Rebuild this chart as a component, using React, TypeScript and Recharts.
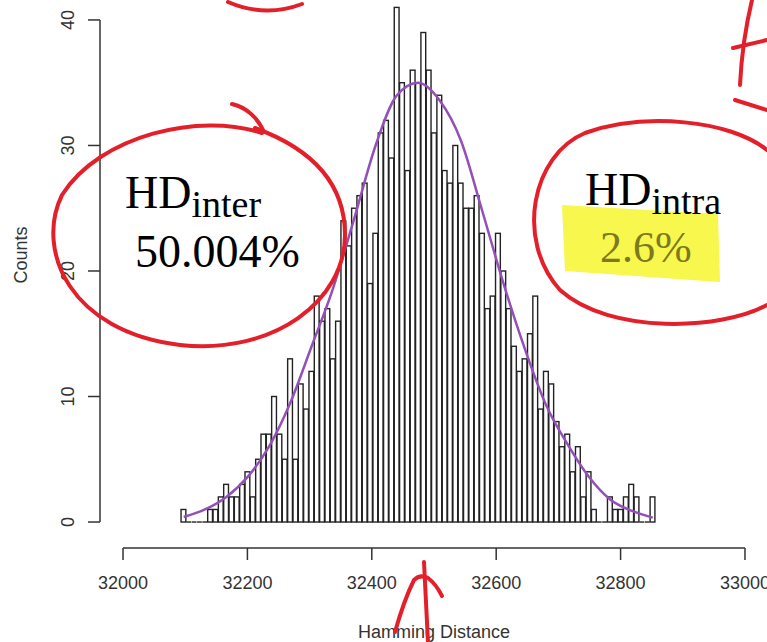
import React from "react"
import {
  ComposedChart,
  Bar,
  Line,
  XAxis,
  YAxis,
  ReferenceLine,
} from "recharts"

// histogram of Hamming distances, bins
const BIN_START = 32093.3
const BIN_WIDTH = 8.57
const COUNTS = [
  1, 0, 0, 0, 0, 1, 1, 2, 3, 2,
  2, 3, 4, 2, 5, 7, 7, 10, 7, 5,
  13, 5, 11, 9, 12, 18, 16, 17, 13, 16,
  24, 22, 25, 26, 27, 19, 23, 31, 32, 29,
  41, 35, 28, 36, 35, 39, 36, 31, 34, 28,
  27, 30, 27, 25, 25, 26, 23, 17, 18, 23,
  20, 17, 14, 12, 13, 15, 18, 9, 12, 11,
  8, 6, 7, 4, 6, 2, 4, 1, 0, 0,
  2, 1, 1, 2, 3, 2, 0, 0, 2,
]

// fitted curve, read every 4th bin
const FIT_STEP = 4
const FIT = [
  0.4, 1.0, 2.0, 3.6, 6.0, 9.5, 14.0, 18.6, 24.2, 30.0, 34.0, 35.0,
  33.6, 30.4, 24.8, 19.0, 13.8, 9.3, 6.2, 3.6, 1.8, 0.9, 0.35,
]

const X_TICKS = [32000, 32200, 32400, 32600, 32800, 33000]
const Y_TICKS = [0, 10, 20, 30, 40]

const W = 767
const H = 642
const Y_AXIS_W = 100
const X_AXIS_H = 94
const X_DOMAIN: [number, number] = [31963, 33035.4]
const Y_DOMAIN: [number, number] = [-2.07, 41.59]
const BAR_PX =
  (BIN_WIDTH * (W - Y_AXIS_W)) / (X_DOMAIN[1] - X_DOMAIN[0])

const SANS = "'Liberation Sans', Arial, sans-serif"
const SERIF = "'Liberation Serif', 'Times New Roman', serif"
const AXIS = "#333"
const RED = "#e3202a"

const data = COUNTS.map((count, i) => ({
  x: BIN_START + BIN_WIDTH * (i + 0.5),
  count,
  fit: i % FIT_STEP === 0 ? FIT[i / FIT_STEP] : undefined,
}))

// eslint-disable-next-line @typescript-eslint/no-explicit-any
function HistBar(props: any) {
  const { x, y, width, height } = props
  if (!height) {
    return <line x1={x} x2={x + width} y1={y} y2={y} stroke="#222" strokeWidth={1.4} />
  }
  return (
    <rect x={x} y={y} width={width} height={height} fill="none" stroke="#222" strokeWidth={1.4} />
  )
}

// eslint-disable-next-line @typescript-eslint/no-explicit-any
function YTick(props: any) {
  const { x, y, payload } = props
  return (
    <text
      transform={`translate(${x},${y}) rotate(-90)`}
      textAnchor="middle"
      fontSize={18}
      fontFamily={SANS}
      fill={AXIS}
    >
      {payload.value}
    </text>
  )
}

function Notes() {
  return (
    <svg
      width={W}
      height={H}
      style={{ position: "absolute", left: 0, top: 0, pointerEvents: "none" }}
    >
      <text x={434} y={638} textAnchor="middle" fontSize={18} fontFamily={SANS} fill={AXIS}>
        Hamming Distance
      </text>
      <text
        transform="translate(27,255) rotate(-90)"
        textAnchor="middle"
        fontSize={18}
        fontFamily={SANS}
        fill={AXIS}
      >
        Counts
      </text>

      <polygon points="562,205 718,214 720,282 565,271" fill="#f7f74e" />

      <text x={125} y={208} fontSize={46} fontFamily={SERIF} fill="#000">
        HD<tspan fontSize={38} dy={9}>inter</tspan>
      </text>
      <text x={135} y={267} fontSize={46} fontFamily={SERIF} fill="#000">
        50.004%
      </text>
      <text x={585} y={205} fontSize={46} fontFamily={SERIF} fill="#000">
        HD<tspan fontSize={38} dy={9}>intra</tspan>
      </text>
      <text x={600} y={262} fontSize={44} fontFamily={SERIF} fill="#7d7a1c">
        2.6%
      </text>

      <g fill="none" stroke={RED} strokeWidth={4} strokeLinecap="round">
        <path d="M262,133 C200,112 100,135 62,195 C35,250 70,332 180,345 C275,355 345,300 345,235 C345,185 315,150 255,128" />
        <path d="M232,104 C246,107 258,118 264,132" />
        <path d="M767,150 C730,120 645,112 585,133 C532,155 515,240 560,290 C610,335 722,330 767,305" />
        <path d="M735,100 L767,110" />
        <path d="M228,2 Q265,18 302,4" />
        <path d="M752,0 Q742,42 740,85" />
        <path d="M733,48 L767,40" />
        <path d="M424,562 Q426,600 428,642" />
        <path d="M395,632 Q404,600 414,580 Q420,574 428,578 Q436,584 442,596" />
      </g>
    </svg>
  )
}

export default function App() {
  return (
    <div style={{ position: "absolute", left: 0, top: 0, width: W, height: H, background: "#fff" }}>
      <ComposedChart
        width={W}
        height={H}
        data={data}
        margin={{ top: 0, right: 0, bottom: 0, left: 0 }}
        barCategoryGap={0}
        barGap={0}
      >
        <XAxis
          type="number"
          dataKey="x"
          domain={X_DOMAIN}
          allowDataOverflow
          ticks={X_TICKS}
          interval={0}
          height={X_AXIS_H}
          axisLine={false}
          tickSize={12}
          tickMargin={16}
          tickLine={{ stroke: AXIS, strokeWidth: 1.5 }}
          tick={{ fill: AXIS, fontSize: 18, fontFamily: SANS }}
        />
        <YAxis
          type="number"
          domain={Y_DOMAIN}
          allowDataOverflow
          ticks={Y_TICKS}
          interval={0}
          width={Y_AXIS_W}
          axisLine={false}
          tickSize={12}
          tickMargin={14}
          tickLine={{ stroke: AXIS, strokeWidth: 1.5 }}
          tick={<YTick />}
        />
        <ReferenceLine
          segment={[
            { x: X_TICKS[0], y: Y_DOMAIN[0] },
            { x: X_TICKS[X_TICKS.length - 1], y: Y_DOMAIN[0] },
          ]}
          stroke={AXIS}
          strokeWidth={1.5}
          ifOverflow="visible"
        />
        <ReferenceLine
          segment={[
            { x: X_DOMAIN[0], y: Y_TICKS[0] },
            { x: X_DOMAIN[0], y: Y_TICKS[Y_TICKS.length - 1] },
          ]}
          stroke={AXIS}
          strokeWidth={1.5}
          ifOverflow="visible"
        />
        <Bar dataKey="count" barSize={BAR_PX} shape={<HistBar />} isAnimationActive={false} />
        <Line
          dataKey="fit"
          type="monotone"
          connectNulls
          dot={false}
          stroke="#9250b8"
          strokeWidth={2.5}
          isAnimationActive={false}
        />
      </ComposedChart>
      <Notes />
    </div>
  )
}
